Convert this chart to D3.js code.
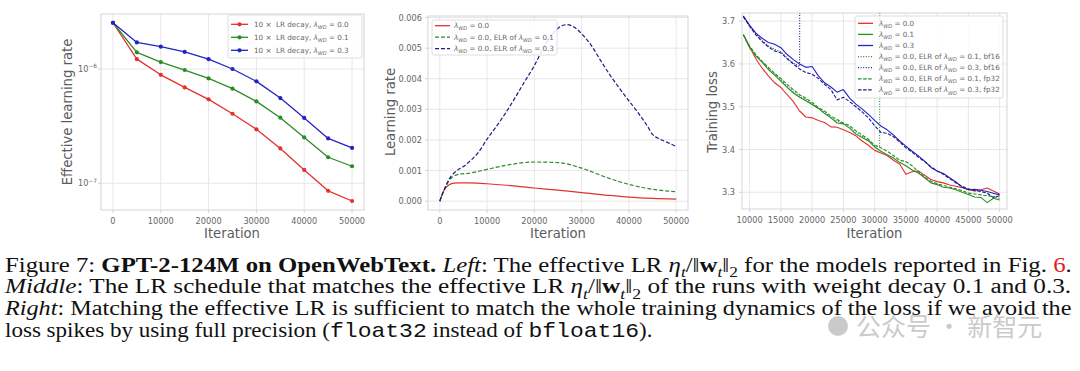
<!DOCTYPE html>
<html>
<head>
<meta charset="utf-8">
<script src="https://cdn.jsdelivr.net/npm/d3@7/dist/d3.min.js"></script>
<style>
  body { margin: 0; background: #fff; }
  svg { display: block; font-family: "DejaVu Sans", sans-serif; }
</style>
</head>
<body>
<svg id="fig" width="1080" height="371"></svg>
<script>
// ---- data: left panel, effective LR (log scale) ----
const ELR_ITER = [0, 5000, 10000, 15000, 20000, 25000, 30000, 35000, 40000, 45000, 50000];
const ELR_WD00 = [2.54e-6, 1.22e-6, 8.9e-7, 6.9e-7, 5.43e-7, 4.06e-7, 2.97e-7, 2.02e-7, 1.31e-7, 8.6e-8, 7.0e-8];
const ELR_WD01 = [2.54e-6, 1.40e-6, 1.15e-6, 9.8e-7, 8.28e-7, 6.73e-7, 5.21e-7, 3.75e-7, 2.52e-7, 1.69e-7, 1.41e-7];
const ELR_WD03 = [2.54e-6, 1.71e-6, 1.57e-6, 1.41e-6, 1.22e-6, 1.0e-6, 7.8e-7, 5.57e-7, 3.73e-7, 2.47e-7, 2.04e-7];

// ---- data: middle panel, LR schedules ----
const LR_ITER_A = [0, 500, 1000, 1500, 2000, 3000, 4000, 6000, 8000, 10000, 15000, 20000, 25000, 30000, 35000, 40000, 45000, 50000];
const LR_WD00 = [0, 0.00022, 0.00038, 0.00048, 0.00054, 0.00059, 0.0006, 0.0006, 0.00059, 0.00057, 0.00051, 0.00043, 0.00036, 0.00028, 0.0002, 0.00013, 0.00009, 0.00007];
const LR_ELR01 = [0, 0.00022, 0.0004, 0.00055, 0.00068, 0.00082, 0.00088, 0.00091, 0.00097, 0.00104, 0.0012, 0.00128, 0.00126, 0.00108, 0.00079, 0.00055, 0.00039, 0.00031];
const LR_ITER_B = [0, 500, 1000, 1500, 2000, 3000, 4000, 5000, 6000, 7000, 8000, 10000, 12000, 14000, 16000, 18000, 20000, 22000, 24000, 25000, 26000, 27000, 28000, 29000, 30000, 32000, 34000, 36000, 38000, 40000, 42000, 44000, 45000, 46000, 48000, 50000];
const LR_ELR03 = [0, 0.00022, 0.0004, 0.00058, 0.00073, 0.00092, 0.00104, 0.00113, 0.00126, 0.0014, 0.00156, 0.00203, 0.00245, 0.0029, 0.0034, 0.00392, 0.00443, 0.00503, 0.00549, 0.00565, 0.00574, 0.00577, 0.00572, 0.00562, 0.00547, 0.0051, 0.0046, 0.00412, 0.00369, 0.00328, 0.00288, 0.00243, 0.00218, 0.00207, 0.00193, 0.00179];

// ---- data: right panel, training loss ----
const LOSS_ITER = [9000, 10000, 11000, 12000, 13000, 14000, 15000, 16000, 17000, 18000, 19000, 20000, 21000, 22000, 23000, 24000, 25000, 26000, 27000, 28000, 29000, 30000, 31000, 32000, 33000, 34000, 35000, 36000, 37000, 38000, 39000, 40000, 41000, 42000, 43000, 44000, 45000, 46000, 47000, 48000, 49000, 50000];
const LOSS_WD00 = [3.668, 3.640, 3.612, 3.590, 3.572, 3.556, 3.545, 3.528, 3.512, 3.490, 3.476, 3.474, 3.468, 3.463, 3.453, 3.452, 3.446, 3.440, 3.432, 3.420, 3.410, 3.398, 3.392, 3.386, 3.375, 3.366, 3.342, 3.348, 3.350, 3.340, 3.330, 3.325, 3.322, 3.317, 3.314, 3.311, 3.306, 3.303, 3.306, 3.310, 3.303, 3.296];
const LOSS_WD01 = [3.668, 3.638, 3.618, 3.604, 3.587, 3.574, 3.560, 3.545, 3.532, 3.522, 3.514, 3.505, 3.496, 3.484, 3.474, 3.462, 3.460, 3.450, 3.436, 3.428, 3.420, 3.406, 3.396, 3.388, 3.380, 3.370, 3.362, 3.352, 3.345, 3.334, 3.322, 3.318, 3.312, 3.310, 3.306, 3.300, 3.295, 3.289, 3.288, 3.276, 3.286, 3.282];
const LOSS_WD03 = [3.712, 3.690, 3.672, 3.660, 3.650, 3.646, 3.638, 3.622, 3.610, 3.600, 3.592, 3.594, 3.572, 3.556, 3.546, 3.534, 3.540, 3.520, 3.506, 3.495, 3.482, 3.468, 3.455, 3.446, 3.434, 3.420, 3.408, 3.396, 3.385, 3.373, 3.358, 3.350, 3.344, 3.334, 3.324, 3.312, 3.306, 3.307, 3.305, 3.302, 3.298, 3.294];
const LOSS_FP32_01 = [3.668, 3.642, 3.622, 3.606, 3.592, 3.578, 3.566, 3.552, 3.540, 3.528, 3.520, 3.510, 3.498, 3.490, 3.478, 3.470, 3.462, 3.456, 3.444, 3.434, 3.424, 3.410, 3.404, 3.396, 3.386, 3.375, 3.372, 3.362, 3.348, 3.336, 3.326, 3.320, 3.316, 3.312, 3.308, 3.304, 3.298, 3.296, 3.294, 3.292, 3.290, 3.286];
const LOSS_FP32_03 = [3.710, 3.688, 3.668, 3.652, 3.640, 3.630, 3.626, 3.612, 3.600, 3.588, 3.580, 3.576, 3.566, 3.552, 3.540, 3.516, 3.522, 3.512, 3.500, 3.488, 3.474, 3.456, 3.440, 3.438, 3.430, 3.418, 3.404, 3.394, 3.382, 3.372, 3.360, 3.350, 3.342, 3.332, 3.322, 3.314, 3.308, 3.304, 3.302, 3.298, 3.288, 3.292];
// bf16 runs end in a loss spike
const BF16_01_ITER = [9000, 10000, 11000, 12000, 13000, 14000, 15000, 16000, 17000, 18000, 19000, 20000, 21000, 22000, 23000, 24000, 25000, 26000, 27000, 28000, 29000, 30000, 30800, 30850];
const BF16_01 = [3.668, 3.640, 3.620, 3.605, 3.590, 3.576, 3.563, 3.548, 3.536, 3.525, 3.517, 3.507, 3.497, 3.487, 3.476, 3.466, 3.461, 3.453, 3.440, 3.431, 3.422, 3.408, 3.408, 4.2];
const BF16_03_ITER = [9000, 10000, 11000, 12000, 13000, 14000, 15000, 16000, 17000, 18000, 18050];
const BF16_03 = [3.712, 3.688, 3.670, 3.655, 3.642, 3.634, 3.628, 3.614, 3.602, 3.594, 4.2];

// ---- caption ----
const MATH = [["η", "i"], ["t", "isub"], ["/‖", "n"], ["w", "b"], ["t", "isub"], ["‖", "n"], ["2", "sub"]];
const CAPTION = [
  [["Figure 7: ", "n"], ["GPT-2-124M on OpenWebText.", "b"], [" ", "n"], ["Left", "i"], [": The effective LR ", "n"], ...MATH,
   [" for the models reported in Fig. ", "n"], ["6", "red"], [".", "n"]],
  [["Middle", "i"], [": The LR schedule that matches the effective LR ", "n"], ...MATH, [" of the runs with weight decay 0.1 and 0.3.", "n"]],
  [["Right", "i"], [": Matching the effective LR is sufficient to match the whole training dynamics of the loss if we avoid the", "n"]],
  [["loss spikes by using full precision (", "n"], ["float32", "mono"], [" instead of ", "n"], ["bfloat16", "mono"], [").", "n"]],
];
const CAPTION_WIDTH = [1067, 1067, 1067, 648];

// ---- styles ----
const RED = "#e3312f", GREEN = "#2b8c27", BLUE = "#2323c4", NAVY = "#1b1b84";
const TICK_TXT = "#666", LABEL_TXT = "#5c5c5c", GRID = "#e4e4e4", SPINE = "#d0d0d0";
const svg = d3.select("#fig");

// lambda_WD style label pieces: [text, kind]
function lam(v) { return [["λ", "i"], ["WD", "isub"], [" = " + v, "n"]]; }

function richText(sel, parts, fs, opt = {}) {
  const sub = fs * 0.28;
  let shifted = false;
  for (const [s, kind] of parts) {
    const t = sel.append("tspan").text(s);
    const isSub = kind === "sub" || kind === "isub";
    if (isSub && !shifted) { t.attr("dy", sub); shifted = true; }
    else if (!isSub && shifted) { t.attr("dy", -sub); shifted = false; }
    if (isSub) t.attr("font-size", fs * 0.7);
    if (kind === "i" || kind === "isub") t.attr("font-style", "italic");
    if (kind === "b") t.attr("font-weight", "bold");
    if (kind === "red") t.attr("fill", "#e0201b");
    if (kind === "mono") t.attr("font-family", opt.mono || "monospace");
  }
  return sel;
}

function panel(o) {
  const g = svg.append("g");
  const x = o.x.range([o.x0, o.x1]);
  const y = o.y.range([o.y1, o.y0]);
  const id = "clip" + Math.round(o.x0);
  g.append("clipPath").attr("id", id).append("rect")
    .attr("x", o.x0).attr("y", o.y0).attr("width", o.x1 - o.x0).attr("height", o.y1 - o.y0);

  // grid
  g.append("g").selectAll("line").data(o.xticks).join("line")
    .attr("x1", (d) => x(d)).attr("x2", (d) => x(d)).attr("y1", o.y0).attr("y2", o.y1)
    .attr("stroke", GRID).attr("stroke-width", 0.9);
  g.append("g").selectAll("line").data(o.yticks).join("line")
    .attr("y1", (d) => y(d)).attr("y2", (d) => y(d)).attr("x1", o.x0).attr("x2", o.x1)
    .attr("stroke", GRID).attr("stroke-width", 0.9);
  g.append("rect").attr("x", o.x0).attr("y", o.y0).attr("width", o.x1 - o.x0).attr("height", o.y1 - o.y0)
    .attr("fill", "none").attr("stroke", SPINE).attr("stroke-width", 0.9);

  // ticks + tick labels
  g.append("g").selectAll("line").data(o.yticks).join("line")
    .attr("x1", o.x0 - 3).attr("x2", o.x0).attr("y1", (d) => y(d)).attr("y2", (d) => y(d))
    .attr("stroke", SPINE).attr("stroke-width", 0.9);
  g.append("g").selectAll("line").data(o.xticks).join("line")
    .attr("y1", o.y1).attr("y2", o.y1 + 3).attr("x1", (d) => x(d)).attr("x2", (d) => x(d))
    .attr("stroke", SPINE).attr("stroke-width", 0.9);
  g.append("g").selectAll("text").data(o.xticks).join("text")
    .attr("x", (d) => x(d)).attr("y", o.y1 + 14).attr("text-anchor", "middle")
    .attr("font-size", 8.2).attr("fill", TICK_TXT).text((d) => d);
  g.append("g").selectAll("text").data(o.yticks).join("text")
    .attr("x", o.x0 - o.ypad).attr("y", (d) => y(d) + 3).attr("text-anchor", "end")
    .attr("font-size", 8.2).attr("fill", TICK_TXT)
    .each(function (d) { o.yfmt(d3.select(this), d); });

  // axis labels
  g.append("text").attr("x", (o.x0 + o.x1) / 2 + (o.xlabDx || 0)).attr("y", 238).attr("text-anchor", "middle")
    .attr("font-size", 13.2).attr("fill", LABEL_TXT).text("Iteration");
  g.append("text").attr("transform", `translate(${o.ylabX},112) rotate(-90)`).attr("text-anchor", "middle")
    .attr("dy", "0.36em").attr("font-size", 13.2).attr("fill", LABEL_TXT).text(o.ylab);

  const plot = g.append("g").attr("clip-path", `url(#${id})`);
  return { g, plot, x, y };
}

function drawLine(p, xs, ys, color, opt = {}) {
  const line = d3.line().x((d, i) => p.x(xs[i])).y((d) => p.y(d));
  if (opt.curve) line.curve(opt.curve);
  p.plot.append("path").datum(ys).attr("d", line)
    .attr("fill", "none").attr("stroke", color).attr("stroke-width", opt.w || 1.2)
    .attr("stroke-dasharray", opt.dash || null).attr("stroke-linejoin", "round");
  if (opt.marker) {
    p.plot.append("g").selectAll("circle").data(ys).join("circle")
      .attr("cx", (d, i) => p.x(xs[i])).attr("cy", (d) => p.y(d)).attr("r", 2.1).attr("fill", color);
  }
}

function legend(p, box, rows, fs) {
  const g = p.g.append("g");
  g.append("rect").attr("x", box.x).attr("y", box.y).attr("width", box.w).attr("height", box.h).attr("rx", 2)
    .attr("fill", "#fff").attr("fill-opacity", 0.85).attr("stroke", "#d6d6d6").attr("stroke-width", 0.8);
  rows.forEach((r, i) => {
    const yy = box.y0 + i * box.dy;
    g.append("line").attr("x1", box.hx0).attr("x2", box.hx1).attr("y1", yy).attr("y2", yy)
      .attr("stroke", r.color).attr("stroke-width", 1.3).attr("stroke-dasharray", r.dash || null);
    if (r.marker) g.append("circle").attr("cx", (box.hx0 + box.hx1) / 2).attr("cy", yy).attr("r", 2.1).attr("fill", r.color);
    const t = g.append("text").attr("x", box.tx).attr("y", yy + fs * 0.36).attr("font-size", fs)
      .attr("fill", TICK_TXT).style("white-space", "pre");
    richText(t, r.label, fs);
  });
}

// ---- left panel ----
const pL = panel({
  x0: 101, x1: 364, y0: 14, y1: 210,
  x: d3.scaleLinear().domain([-2500, 52500]),
  y: d3.scaleLog().domain([5.84e-8, 3.03e-6]),
  xticks: [0, 10000, 20000, 30000, 40000, 50000],
  yticks: [1e-7, 1e-6],
  ypad: 4,
  yfmt: (t, d) => { t.append("tspan").text("10"); t.append("tspan").attr("dy", -3.6).attr("font-size", 5.8).text("−" + Math.round(-Math.log10(d))); },
  ylab: "Effective learning rate", ylabX: 67, xlabDx: -0.5,
});
drawLine(pL, ELR_ITER, ELR_WD00, RED, { marker: true, w: 1.3 });
drawLine(pL, ELR_ITER, ELR_WD01, GREEN, { marker: true, w: 1.3 });
drawLine(pL, ELR_ITER, ELR_WD03, BLUE, { marker: true, w: 1.3 });
legend(pL, { x: 228, y: 15, w: 134, h: 43, y0: 24.3, dy: 13, hx0: 231, hx1: 248, tx: 254 }, [
  { color: RED, marker: true, label: [["10 ×  LR decay, ", "n"], ...lam("0.0")] },
  { color: GREEN, marker: true, label: [["10 ×  LR decay, ", "n"], ...lam("0.1")] },
  { color: BLUE, marker: true, label: [["10 ×  LR decay, ", "n"], ...lam("0.3")] },
], 7.2);

// ---- middle panel ----
const pM = panel({
  x0: 428, x1: 688, y0: 16, y1: 210,
  x: d3.scaleLinear().domain([-2500, 52500]),
  y: d3.scaleLinear().domain([-0.000288, 0.00605]),
  xticks: [0, 10000, 20000, 30000, 40000, 50000],
  yticks: [0, 0.001, 0.002, 0.003, 0.004, 0.005, 0.006],
  ypad: 6,
  yfmt: (t, d) => t.text(d3.format(".3f")(d)),
  ylab: "Learning rate", ylabX: 390,
});
drawLine(pM, LR_ITER_A, LR_WD00, RED, { curve: d3.curveMonotoneX, w: 1.2 });
drawLine(pM, LR_ITER_A, LR_ELR01, GREEN, { curve: d3.curveMonotoneX, w: 1.2, dash: "4,2" });
drawLine(pM, LR_ITER_B, LR_ELR03, NAVY, { curve: d3.curveMonotoneX, w: 1.2, dash: "4,2" });
legend(pM, { x: 432, y: 20, w: 125, h: 35, y0: 25.7, dy: 11.5, hx0: 435, hx1: 450, tx: 454 }, [
  { color: RED, label: lam("0.0") },
  { color: GREEN, dash: "4,2", label: [...lam("0.0, ELR of "), ...lam("0.1")] },
  { color: NAVY, dash: "4,2", label: [...lam("0.0, ELR of "), ...lam("0.3")] },
], 7.2);

// ---- right panel ----
const pR = panel({
  x0: 742, x1: 1007, y0: 13, y1: 209,
  x: d3.scaleLinear().domain([8780, 51180]),
  y: d3.scaleLinear().domain([3.261, 3.719]),
  xticks: [10000, 15000, 20000, 25000, 30000, 35000, 40000, 45000, 50000],
  yticks: [3.3, 3.4, 3.5, 3.6, 3.7],
  ypad: 7,
  yfmt: (t, d) => t.text(d3.format(".1f")(d)),
  ylab: "Training loss", ylabX: 712.5,
});
drawLine(pR, LOSS_ITER, LOSS_WD00, RED, { w: 1.1 });
drawLine(pR, LOSS_ITER, LOSS_WD01, GREEN, { w: 1.1 });
drawLine(pR, LOSS_ITER, LOSS_WD03, BLUE, { w: 1.1 });
drawLine(pR, BF16_01_ITER, BF16_01, GREEN, { w: 1.1, dash: "1,1.6" });
drawLine(pR, BF16_03_ITER, BF16_03, NAVY, { w: 1.1, dash: "1,1.6" });
drawLine(pR, LOSS_ITER, LOSS_FP32_01, GREEN, { w: 1.1, dash: "3.5,1.6" });
drawLine(pR, LOSS_ITER, LOSS_FP32_03, NAVY, { w: 1.1, dash: "3.5,1.6" });
legend(pR, { x: 855, y: 16, w: 148, h: 82, y0: 23.3, dy: 11.1, hx0: 858, hx1: 873, tx: 879 }, [
  { color: RED, label: lam("0.0") },
  { color: GREEN, label: lam("0.1") },
  { color: BLUE, label: lam("0.3") },
  { color: GREEN, dash: "1,1.6", label: [...lam("0.0, ELR of "), ...lam("0.1, bf16")] },
  { color: NAVY, dash: "1,1.6", label: [...lam("0.0, ELR of "), ...lam("0.3, bf16")] },
  { color: GREEN, dash: "3.5,1.6", label: [...lam("0.0, ELR of "), ...lam("0.1, fp32")] },
  { color: NAVY, dash: "3.5,1.6", label: [...lam("0.0, ELR of "), ...lam("0.3, fp32")] },
], 7.2);

// ---- caption (Times-like serif, each line stretched to the column width) ----
const CAP_FS = 20;
const cap = svg.append("g").attr("font-family", '"Liberation Serif", "Times New Roman", serif').attr("fill", "#111");
CAPTION.forEach((parts, i) => {
  const t = cap.append("text").attr("font-size", CAP_FS).style("white-space", "pre");
  richText(t, parts, CAP_FS, { mono: '"Liberation Mono", "DejaVu Sans Mono", monospace' });
  const w = t.node().getComputedTextLength();
  t.attr("transform", `translate(5,${271.7 + i * 21.7}) scale(${CAPTION_WIDTH[i] / w},1)`);
});

// ---- watermark ----
const wm = svg.append("g").attr("opacity", 0.45).attr("fill", "#8c8c8c");
wm.append("circle").attr("cx", 838).attr("cy", 326).attr("r", 10);
wm.append("text").attr("x", 856).attr("y", 336).attr("font-size", 25)
  .attr("font-family", '"Noto Sans CJK SC", sans-serif').style("white-space", "pre").text("公众号 · 新智元");
</script>
</body>
</html>
